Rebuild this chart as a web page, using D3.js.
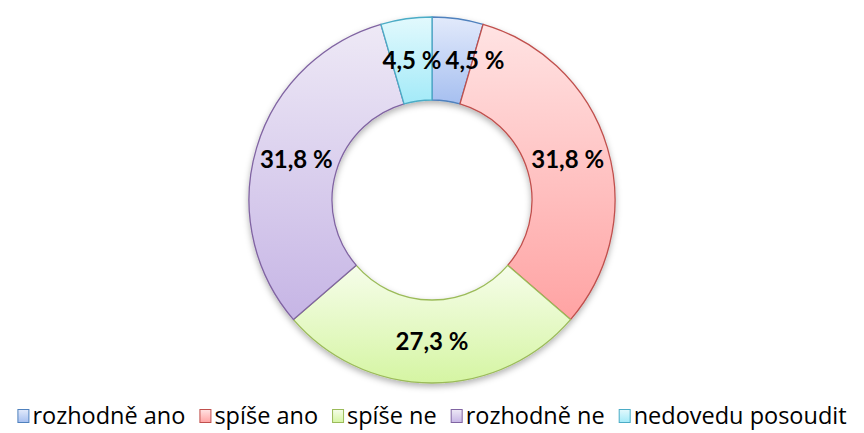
<!DOCTYPE html>
<html>
<head>
<meta charset="utf-8">
<script src="https://cdn.jsdelivr.net/npm/d3@7/dist/d3.min.js"></script>
<style>
  html, body { margin: 0; padding: 0; background: #fff; }
  svg { display: block; }
</style>
</head>
<body>
<svg id="chart" width="864" height="433"></svg>
<script>
(function(){
'use strict';

// data
var categories = ['rozhodně ano', 'spíše ano', 'spíše ne', 'rozhodně ne', 'nedovedu posoudit'];
var values = [4.5, 31.8, 27.3, 31.8, 4.5];

// colours: stroke, gradient top, gradient bottom
var strokes = ['#4f81bd', '#c0504d', '#9bbb59', '#8064a2', '#4bacc6'];
var topFill = ['#e2eafb', '#ffe3e3', '#f6fdea', '#eee9f6', '#e2f9fd'];
var bottomFill = ['#a6bff0', '#ffa3a3', '#d5f5a3', '#c6b5e5', '#a3eaf8'];

var width = 864,
    cx = 432,
    cy = 200,
    outerR = 183,
    innerR = 100;

var svg = d3.select('#chart');
var defs = svg.append('defs');

categories.forEach(function(c, i){
    var g = defs.append('linearGradient')
        .attr('id', 'grad' + i)
        .attr('x1', 0).attr('y1', 0)
        .attr('x2', 0).attr('y2', 1);
    g.append('stop').attr('offset', '0%').attr('stop-color', topFill[i]);
    g.append('stop').attr('offset', '100%').attr('stop-color', bottomFill[i]);
});

var shadow = defs.append('filter')
    .attr('id', 'shadow')
    .attr('x', '-10%').attr('y', '-10%')
    .attr('width', '120%').attr('height', '125%');
shadow.append('feDropShadow')
    .attr('dx', 0).attr('dy', 3)
    .attr('stdDeviation', 3)
    .attr('flood-color', '#000')
    .attr('flood-opacity', 0.3);

var pie = d3.pie().sort(null).value(function(d){ return d; });
var arcs = pie(values);

var arc = d3.arc().innerRadius(innerR).outerRadius(outerR);
var labelArc = d3.arc().innerRadius((innerR + outerR) / 2).outerRadius((innerR + outerR) / 2);

var ring = svg.append('g')
    .attr('transform', 'translate(' + cx + ',' + cy + ')');

ring.append('g')
    .attr('filter', 'url(#shadow)')
    .selectAll('path')
    .data(arcs)
  .enter().append('path')
    .attr('d', arc)
    .attr('fill', function(d, i){ return 'url(#grad' + i + ')'; })
    .attr('stroke', function(d, i){ return strokes[i]; })
    .attr('stroke-width', 1.3)
    .attr('stroke-linejoin', 'round');

var fmt = function(v){ return d3.format('.1f')(v).replace('.', ',') + ' %'; };

var labels = ring.append('g')
    .selectAll('text')
    .data(arcs)
  .enter().append('text')
    .attr('transform', function(d){ return 'translate(' + labelArc.centroid(d) + ')'; })
    .attr('text-anchor', 'middle')
    .attr('dy', '0.36em')
    .attr('font-family', 'Lato, "Open Sans", sans-serif')
    .attr('font-weight', 'bold')
    .attr('font-size', '24px')
    .attr('fill', '#000')
    .text(function(d){ return fmt(d.data); });

// XXX push the first label right when it runs into the last one
var nodes = labels.nodes();
var first = nodes[0], last = nodes[nodes.length - 1];
var c0 = labelArc.centroid(arcs[0]), cL = labelArc.centroid(arcs[arcs.length - 1]);
var w0 = first.getComputedTextLength(), wL = last.getComputedTextLength();
var overlap = (cL[0] + wL / 2 + 4) - (c0[0] - w0 / 2);
if (overlap > 0){
    d3.select(first).attr('transform', 'translate(' + (c0[0] + overlap) + ',' + c0[1] + ')');
}

// legend
var legend = svg.append('g');
var legendY = 416,
    boxW = 11,
    boxH = 13,
    gap = 4,
    itemGap = 14;
var x = 0, items = [];
categories.forEach(function(c, i){
    var item = legend.append('g');
    item.append('rect')
        .attr('x', 0.5).attr('y', -boxH / 2)
        .attr('width', boxW).attr('height', boxH)
        .attr('fill', 'url(#grad' + i + ')')
        .attr('stroke', strokes[i])
        .attr('stroke-width', 1);
    var t = item.append('text')
        .attr('x', boxW + gap)
        .attr('dy', '0.35em')
        .attr('font-family', '"Open Sans", Lato, sans-serif')
        .attr('font-size', '23.5px')
        .attr('fill', '#000')
        .text(c);
    var w = boxW + gap + t.node().getComputedTextLength();
    items.push({ g: item, x: x });
    x += w + itemGap;
});
var total = x - itemGap;
var startX = (width - total) / 2;
items.forEach(function(it){
    it.g.attr('transform', 'translate(' + (startX + it.x) + ',' + legendY + ')');
});

})();
</script>
</body>
</html>
